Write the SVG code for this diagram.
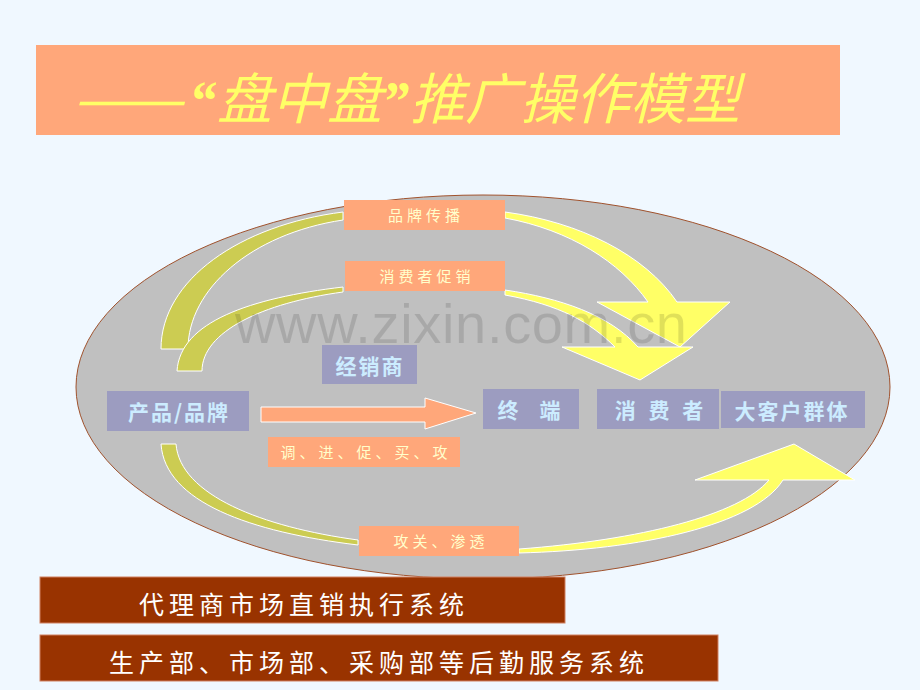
<svg xmlns="http://www.w3.org/2000/svg" width="920" height="690" viewBox="0 0 920 690">
<style>
.cjk{font-family:"Noto Sans CJK SC","Noto Sans CJK TC",sans-serif}
.orange{fill:#FFA77A}
.purple{fill:#9C9CC0}
.brown{fill:#993300}
.lbl-o{fill:#FFFFCC;font-size:15px;letter-spacing:4px;text-anchor:middle}
.lbl-p{fill:#CCECFF;font-size:21px;font-weight:bold;letter-spacing:2px;text-anchor:middle}
.lbl-b{fill:#FFFFFF;font-size:25px;letter-spacing:5px}
.olive{fill:#CCCC52;stroke:#FFFFFF;stroke-width:1}
.yel{fill:#FFFF66;stroke:#FFFFFF;stroke-width:1}
.q{font-family:"Liberation Serif","Times New Roman",serif;font-weight:bold}
</style>
<rect width="920" height="690" fill="#F0F8FF"/>
<g id="title">
<rect x="36" y="45" width="804" height="90" class="orange"/>
<g class="cjk" font-size="55" font-style="italic" fill="#FFFF66">
<text x="72" y="119" textLength="111" lengthAdjust="spacingAndGlyphs">——</text>
<text x="189" y="119" class="q">“</text>
<text x="217" y="119">盘中盘</text>
<text x="382" y="119" class="q">”</text>
<text x="410" y="119">推广操作模型</text>
</g>
</g>
<g id="background-ellipse">
<ellipse cx="483" cy="387" rx="407" ry="192" fill="#C0C0C0" stroke="#A0522D" stroke-width="1"/>
</g>
<g id="connectors">
<path class="olive" d="M161,349 C161,280 240,225 343,212 L343,220 C250,234 188,290 188,349 Z"/>
<path class="olive" d="M177,371 C180,322 250,298 343,287 L343,292 C262,303 202,332 202,371 Z"/>
<path class="yel" d="M505,212 C580,222 645,255 677,302 L730,302 L680,347 L597,302 L648,302 C620,262 570,230 505,218 Z"/>
<path class="yel" d="M505,290 C560,298 610,315 638,347 L693,347 L640,380 L562,347 L615,347 C590,322 560,305 505,295 Z"/>
<path class="olive" d="M161,444 C165,502 250,532 358,545 L358,540 C262,527 180,495 176,444 Z"/>
<path class="yel" d="M519,549 C640,540 740,515 769,480 L695,480 L794,444 L855,480 L783,480 C755,525 640,550 519,553 Z"/>
<path fill="#FFA77A" stroke="#FFFFFF" stroke-width="1" d="M261,407 L425,407 L425,398 L476,413 L425,429 L425,422 L261,422 Z"/>
</g>
<g id="node-brand-comm">
<rect x="344" y="200" width="161" height="30" class="orange"/>
<text x="426" y="221" class="cjk lbl-o">品牌传播</text>
</g>
<g id="node-consumer-promo">
<rect x="345" y="261" width="160" height="30" class="orange"/>
<text x="427" y="282" class="cjk lbl-o">消费者促销</text>
</g>
<g id="node-dealer">
<rect x="322" y="345" width="95" height="39" class="purple"/>
<text x="370" y="374" class="cjk lbl-p">经销商</text>
</g>
<g id="node-product">
<rect x="107" y="391" width="142" height="40" class="purple"/>
<text x="179" y="420" class="cjk lbl-p">产品/品牌</text>
</g>
<g id="node-terminal">
<rect x="483" y="389" width="96" height="40" class="purple"/>
<text x="533" y="418" class="cjk lbl-p" style="letter-spacing:8px">终 端</text>
</g>
<g id="node-consumer">
<rect x="597" y="389" width="122" height="40" class="purple"/>
<text x="661" y="418" class="cjk lbl-p" style="letter-spacing:4px">消 费 者</text>
</g>
<g id="node-bigclient">
<rect x="721" y="391" width="144" height="37" class="purple"/>
<text x="792" y="419" class="cjk lbl-p">大客户群体</text>
</g>
<g id="node-tune">
<rect x="268" y="437" width="192" height="30" class="orange"/>
<text x="366" y="458" class="cjk lbl-o">调、进、促、买、攻</text>
</g>
<g id="node-attack">
<rect x="359" y="526" width="160" height="30" class="orange"/>
<text x="441" y="547" class="cjk lbl-o">攻关、渗透</text>
</g>
<g id="bar-agent">
<rect x="40" y="577" width="525" height="46" class="brown" stroke="#D08060" stroke-width="1"/>
<text x="139" y="614" class="cjk lbl-b">代理商市场直销执行系统</text>
</g>
<g id="bar-support">
<rect x="40" y="635" width="678" height="46" class="brown" stroke="#D08060" stroke-width="1"/>
<text x="109" y="672" class="cjk lbl-b">生产部、市场部、采购部等后勤服务系统</text>
</g>
<g id="watermark">
<text x="235" y="343" font-family="Liberation Sans, Arial, sans-serif" font-size="56" fill="#000000" fill-opacity="0.12" textLength="452">www.zixin.com.cn</text>
</g>
</svg>
